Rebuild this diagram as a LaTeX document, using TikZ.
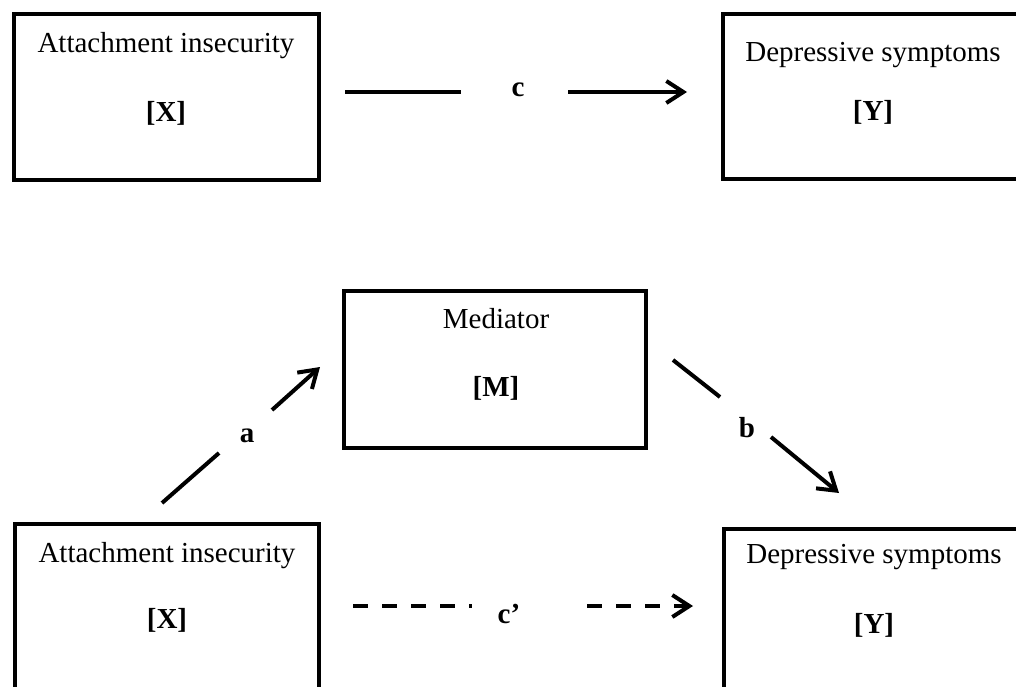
\documentclass[tikz,border=0pt]{standalone}
\usepackage{fontspec}
\setmainfont{Liberation Serif}
\usetikzlibrary{arrows.meta}
\begin{document}
\begin{tikzpicture}[x=1pt,y=-1pt,
  box/.style={draw, line width=4pt, minimum height=165pt, inner sep=0pt},
  txt/.style={anchor=base, inner sep=0pt, font=\fontsize{29}{34}\selectfont},
  lbl/.style={anchor=base, inner sep=0pt, font=\fontsize{29}{34}\selectfont\bfseries},
  link/.style={line width=4pt},
  tipped/.style={link, -{Straight Barb[length=17pt,width=22pt]}},
  dashlink/.style={link, dash pattern=on 15pt off 14pt},
]
\useasboundingbox (0,0) rectangle (1016,687);
\clip (0,0) rectangle (1016,687);

% top row
\node[box, minimum width=305pt] (X1) at (166.5,97) {};
\node[box, minimum width=300pt] (Y1) at (873,96.5) {};
\node[txt] (X1t) at (166,53) {Attachment insecurity};
\node[lbl] (X1l) at (166,122) {[X]};
\node[txt] (Y1t) at (873,62) {Depressive symptoms};
\node[lbl] (Y1l) at (873,121) {[Y]};

\coordinate (c1) at (345,92);
\coordinate (c2) at (461,92);
\node[lbl] (c) at (518,97) {c};
\coordinate (c3) at (568,92);
\coordinate (c4) at (687,92);
\draw[link] (c1) -- (c2);
\draw[tipped] (c3) -- (c4);

% mediator
\node[box, minimum width=302pt, minimum height=157pt] (M) at (495,369.5) {};
\node[txt] (Mt) at (496,328) {Mediator};
\node[lbl] (Ml) at (496,396) {[M]};

% bottom row
\node[box, minimum width=304pt] (X2) at (167,606.5) {};
\node[box, minimum width=300pt] (Y2) at (874,611.5) {};
\node[txt] (X2t) at (167,562) {Attachment insecurity};
\node[lbl] (X2l) at (167,628) {[X]};
\node[txt] (Y2t) at (874,563) {Depressive symptoms};
\node[lbl] (Y2l) at (874,633) {[Y]};

% path a
\coordinate (a1) at (162,503);
\coordinate (a2) at (219,453);
\node[lbl] (a) at (247,442) {a};
\coordinate (a3) at (272,410);
\coordinate (a4) at (320,367);
\draw[link] (a1) -- (a2);
\draw[tipped] (a3) -- (a4);

% path b
\coordinate (b1) at (673,360);
\coordinate (b2) at (720,397);
\node[lbl] (b) at (747,437) {b};
\coordinate (b3) at (771,437);
\coordinate (b4) at (839,493);
\draw[link] (b1) -- (b2);
\draw[tipped] (b3) -- (b4);

% path c'
\coordinate (d1) at (353,606);
\coordinate (d2) at (472,606);
\node[lbl] (cp) at (509,623) {c’};
\coordinate (d3) at (587,606);
\coordinate (d4) at (693,606);
\draw[dashlink] (d1) -- (d2);
\draw[dashlink, -{Straight Barb[length=17pt,width=22pt]}] (d3) -- (d4);
\end{tikzpicture}
\end{document}
